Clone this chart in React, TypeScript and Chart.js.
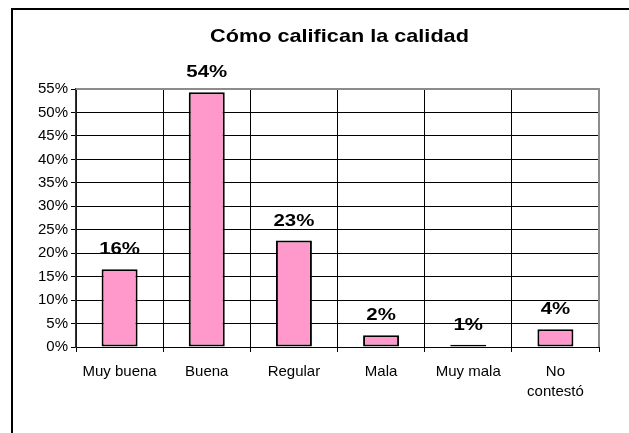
import React, { useEffect, useRef } from 'react';
import { Chart, registerables } from 'chart.js';

Chart.register(...registerables);

const chartTitle = 'Cómo califican la calidad';
const categories: (string | string[])[] = ['Muy buena', 'Buena', 'Regular', 'Mala', 'Muy mala', ['No', 'contestó']];
const values = [16.6, 54.3, 22.7, 2.5, 0.5, 3.8];
const valueLabels = ['16%', '54%', '23%', '2%', '1%', '4%'];
const yMax = 55;
const yStep = 5;

const FONT = 'Arial, "Liberation Sans", sans-serif';

const decorPlugin = {
  id: 'decor',
  afterDraw(chart: any) {
    const { ctx, chartArea: a } = chart;
    ctx.save();
    // outer frame (top & left edges visible)
    ctx.fillStyle = '#000';
    ctx.fillRect(11, 8, 2, chart.height);
    ctx.fillRect(11, 8, chart.width, 2);
    // plot border top & right
    ctx.strokeStyle = '#8c8c8c';
    ctx.lineWidth = 2;
    ctx.beginPath();
    ctx.moveTo(a.left, a.top);
    ctx.lineTo(a.right, a.top);
    ctx.lineTo(a.right, a.bottom);
    ctx.stroke();
    // title
    ctx.fillStyle = '#000';
    ctx.textAlign = 'center';
    ctx.textBaseline = 'alphabetic';
    ctx.font = `bold 19px ${FONT}`;
    ctx.save();
    ctx.translate((a.left + a.right) / 2 + 2, 42);
    ctx.scale(1.14, 1);
    ctx.fillText(chartTitle, 0, 0);
    ctx.restore();
    // data labels
    const meta = chart.getDatasetMeta(0);
    ctx.font = `bold 17px ${FONT}`;
    meta.data.forEach((el: any, i: number) => {
      ctx.save();
      ctx.translate(el.x, el.y - 15);
      ctx.scale(1.2, 1);
      ctx.fillText(valueLabels[i], 0, 0);
      ctx.restore();
    });
    ctx.restore();
  },
};

export default function App() {
  const ref = useRef<HTMLCanvasElement | null>(null);
  useEffect(() => {
    if (!ref.current) return;
    Chart.defaults.font.family = FONT;
    const chart = new Chart(ref.current, {
      type: 'bar',
      data: {
        labels: categories,
        datasets: [
          {
            data: values,
            backgroundColor: '#FF99CC',
            borderColor: '#000',
            borderWidth: 2,
            borderSkipped: false,
            categoryPercentage: 1,
            barPercentage: 0.413,
          },
        ],
      },
      options: {
        animation: false,
        responsive: false,
        maintainAspectRatio: false,
        devicePixelRatio: 1,
        layout: { padding: { top: 89, right: 30, left: 0, bottom: 0 } },
        plugins: {
          legend: { display: false },
          title: { display: false },
          tooltip: { enabled: false },
        },
        scales: {
          x: {
            grid: { offset: true, color: '#000', lineWidth: 1, tickLength: 5, tickColor: '#000', drawOnChartArea: true },
            border: { color: '#000', width: 1 },
            ticks: {
              color: '#000',
              font: { size: 15, lineHeight: 1.333 },
              padding: 10,
              maxRotation: 0,
              autoSkip: false,
            },
            afterFit: (s: any) => {
              s.height = 86;
            },
          },
          y: {
            min: 0,
            max: yMax,
            grid: { color: '#000', lineWidth: 1, tickLength: 5, tickColor: '#000' },
            border: { color: '#333', width: 1.5 },
            ticks: {
              stepSize: yStep,
              color: '#000',
              font: { size: 15 },
              padding: 3,
              callback: (v: any) => `${v}%`,
            },
            afterFit: (s: any) => {
              s.width = 76;
            },
          },
        },
      },
      plugins: [decorPlugin],
    });
    return () => chart.destroy();
  }, []);
  return (
    <div style={{ position: 'fixed', left: 0, top: 0, width: 629, height: 433, background: '#fff' }}>
      <canvas ref={ref} width={629} height={433} style={{ width: 629, height: 433, display: 'block' }} />
    </div>
  );
}
